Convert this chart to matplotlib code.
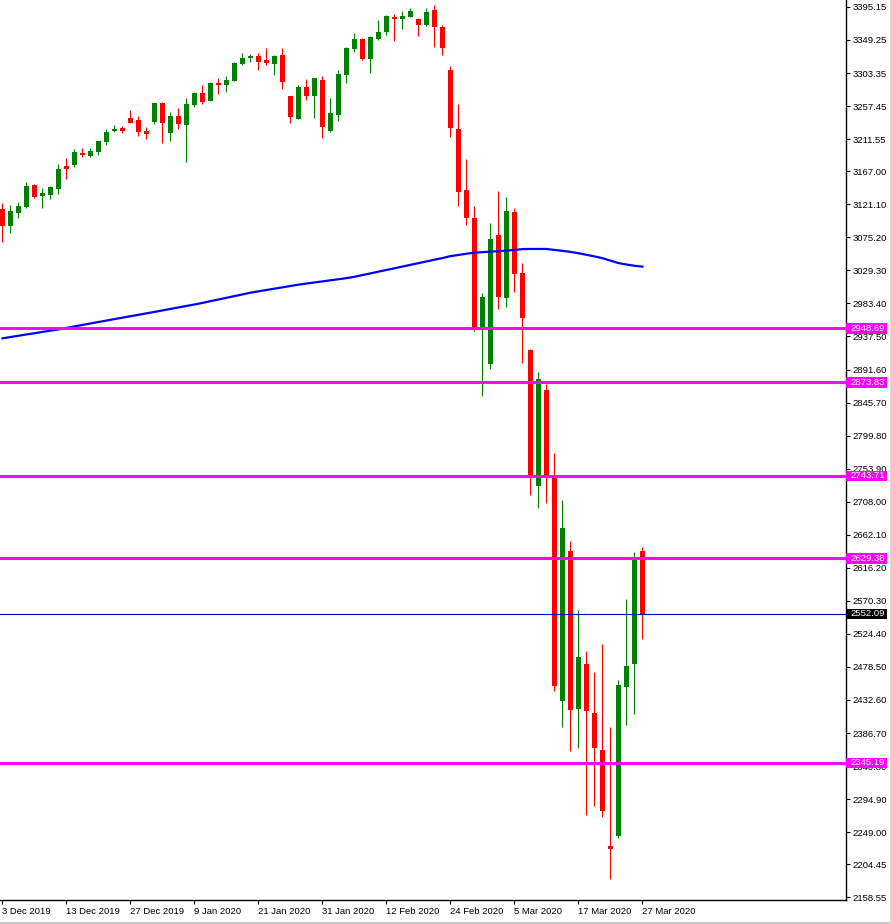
import matplotlib.pyplot as plt
import matplotlib.transforms as mtransforms
from matplotlib.patches import Rectangle
from matplotlib.lines import Line2D
import numpy as np

# daily candles, 3 Dec 2019 .. 27 Mar 2020
opens = [3114.5, 3091.4, 3109.4, 3117.7, 3147.8, 3133.0, 3134.4, 3142.7, 3174.2, 3176.1,
         3192.3, 3188.6, 3193.7, 3207.6, 3222.9, 3227.0, 3240.9, 3238.1, 3222.9, 3235.3,
         3261.7, 3220.1, 3243.7, 3231.2, 3259.0, 3275.6, 3264.5, 3289.5, 3286.7, 3292.3,
         3315.9, 3324.2, 3327.0, 3321.5, 3315.9, 3328.4, 3271.5, 3239.5, 3284.0, 3271.5,
         3293.7, 3222.9, 3245.1, 3300.6, 3336.7, 3350.6, 3322.9, 3350.6, 3360.4, 3381.2,
         3378.4, 3381.2, 3378.4, 3370.1, 3390.9, 3367.3, 3307.5, 3225.6, 3140.9, 3102.0,
         2951.0, 2899.7, 3078.4, 2991.3, 3110.3, 3025.6, 2918.6, 2730.3, 2863.1, 2740.9,
         2431.6, 2639.5, 2420.5, 2482.6, 2414.5, 2363.1, 2230.3, 2244.1, 2451.1, 2483.0,
         2639.5]
highs = [3122.8, 3120.1, 3124.2, 3152.0, 3149.2, 3143.7, 3146.0, 3177.0, 3185.4, 3197.8,
         3199.2, 3199.2, 3209.5, 3225.6, 3231.2, 3229.8, 3252.0, 3243.7, 3228.4, 3262.0,
         3263.1, 3249.2, 3254.8, 3268.7, 3277.0, 3286.7, 3290.9, 3296.5, 3299.2, 3318.7,
         3331.2, 3329.8, 3331.2, 3338.1, 3328.4, 3338.1, 3272.0, 3286.7, 3295.1, 3297.0,
         3299.2, 3268.7, 3307.6, 3339.5, 3359.0, 3352.0, 3354.8, 3377.0, 3383.5, 3385.4,
         3389.5, 3393.7, 3379.8, 3393.7, 3397.9, 3370.1, 3313.1, 3260.3, 3183.9, 3118.6,
         2997.8, 3095.0, 3139.5, 3131.1, 3115.9, 3039.5, 2919.5, 2888.1, 2871.5, 2775.6,
         2710.3, 2653.4, 2557.6, 2500.6, 2471.5, 2510.3, 2395.5, 2460.3, 2572.9, 2638.1,
         2645.1]
lows = [3069.1, 3081.6, 3102.5, 3115.9, 3130.3, 3116.4, 3128.9, 3135.8, 3156.6, 3173.3,
        3187.2, 3187.2, 3190.0, 3203.4, 3221.5, 3220.1, 3233.5, 3215.9, 3211.7, 3232.6,
        3206.2, 3209.0, 3225.6, 3179.8, 3256.2, 3260.3, 3264.0, 3274.2, 3277.0, 3292.0,
        3314.5, 3318.7, 3307.6, 3314.5, 3300.6, 3281.2, 3234.0, 3239.0, 3265.9, 3240.9,
        3213.1, 3222.0, 3236.7, 3289.5, 3332.6, 3321.5, 3303.4, 3349.2, 3356.2, 3347.9,
        3364.5, 3380.8, 3354.8, 3368.7, 3339.5, 3328.4, 3214.9, 3119.1, 3092.7, 2945.5,
        2855.2, 2892.7, 2976.0, 2978.8, 2999.7, 2901.0, 2717.3, 2699.7, 2706.6, 2445.5,
        2395.5, 2362.2, 2366.4, 2273.3, 2285.8, 2270.5, 2184.4, 2241.4, 2398.3, 2413.6,
        2517.8]
closes = [3091.4, 3111.7, 3118.7, 3146.5, 3131.6, 3136.7, 3145.1, 3170.1, 3170.5, 3193.7,
          3189.5, 3195.1, 3209.0, 3221.5, 3225.6, 3223.3, 3234.0, 3221.5, 3218.7, 3261.7,
          3234.0, 3243.7, 3232.6, 3260.3, 3275.6, 3263.1, 3289.5, 3286.7, 3293.7, 3317.3,
          3324.2, 3327.0, 3318.7, 3317.3, 3327.0, 3290.9, 3242.3, 3284.0, 3271.5, 3296.5,
          3228.4, 3247.9, 3302.0, 3338.1, 3350.6, 3322.9, 3353.4, 3360.4, 3382.6, 3378.4,
          3382.6, 3389.5, 3370.1, 3388.1, 3367.3, 3338.1, 3227.5, 3138.1, 3102.4, 2951.0,
          2992.2, 3072.8, 2992.7, 3111.7, 3024.7, 2963.5, 2740.4, 2878.4, 2745.1, 2452.5,
          2671.5, 2419.1, 2492.3, 2417.7, 2366.4, 2278.9, 2226.1, 2453.4, 2479.8, 2627.0,
          2552.1]
# moving average
ma = [2934.9, 2936.7, 2938.5, 2940.3, 2942.0, 2943.8, 2945.6, 2947.3, 2949.4, 2951.4,
      2953.5, 2955.5, 2957.6, 2959.6, 2961.6, 2963.6, 2965.6, 2967.6, 2969.6, 2971.6,
      2973.7, 2975.8, 2977.8, 2979.9, 2981.9, 2984.1, 2986.5, 2988.8, 2991.2, 2993.5,
      2995.9, 2998.3, 3000.2, 3002.0, 3003.9, 3005.7, 3007.6, 3009.4, 3011.0, 3012.5,
      3014.0, 3015.5, 3017.0, 3018.5, 3020.4, 3022.8, 3025.1, 3027.5, 3029.9, 3032.2,
      3034.6, 3037.0, 3039.3, 3041.7, 3044.1, 3046.4, 3049.1, 3050.7, 3052.4, 3053.9,
      3054.6, 3055.3, 3056.0, 3056.7, 3057.7, 3058.8, 3059.0, 3059.0, 3059.0, 3057.7,
      3056.4, 3055.0, 3053.1, 3050.9, 3048.7, 3046.2, 3042.8, 3039.4, 3037.4, 3035.7,
      3034.5]

levels = [2948.69, 2873.83, 2743.71, 2629.38, 2345.19]
last_price = 2552.09

date_labels = ['3 Dec 2019', '13 Dec 2019', '27 Dec 2019', '9 Jan 2020', '21 Jan 2020',
               '31 Jan 2020', '12 Feb 2020', '24 Feb 2020', '5 Mar 2020', '17 Mar 2020',
               '27 Mar 2020']
price_ticks = [3395.15, 3349.25, 3303.35, 3257.45, 3211.55, 3167.00, 3121.10, 3075.20,
               3029.30, 2983.40, 2937.50, 2891.60, 2845.70, 2799.80, 2753.90, 2708.00,
               2662.10, 2616.20, 2570.30, 2524.40, 2478.50, 2432.60, 2386.70, 2340.80,
               2294.90, 2249.00, 2204.45, 2158.55]

plt.rcParams['font.family'] = ['Liberation Sans', 'DejaVu Sans']
fs = 6.8

W, H = 892, 924
fig = plt.figure(figsize=(W / 100, H / 100), dpi=100)
ax = fig.add_axes([0, 24 / H, 846 / W, 900 / H])

x = np.arange(len(opens))
o = np.array(opens)
c = np.array(closes)
colors = np.where(c >= o, '#008000', '#ff0000')

# candles
ax.vlines(x, lows, highs, colors=colors, lw=0.8, zorder=2)
body = np.maximum(np.abs(c - o), 1.0)
ax.bar(x, body, bottom=np.minimum(o, c), width=0.625, color=colors, linewidth=0, zorder=3)

# moving average
ax.plot(x, ma, color='#0000ff', lw=1.6, zorder=4)

# levels
for lvl in levels:
    ax.axhline(lvl, color='#ff00ff', lw=2.1, zorder=4)
ax.axhline(last_price, color='#0000c0', lw=0.8, zorder=4)

ax.set_xlim(-0.3125, 105.44)
ax.set_ylim(2154.8, 3404.8)

# axes look
for s in ['top', 'left']:
    ax.spines[s].set_visible(False)
ax.spines['right'].set_linewidth(1)
ax.spines['bottom'].set_linewidth(1)

ax.yaxis.tick_right()
ax.set_yticks(price_ticks)
ax.set_yticklabels(['%.2f' % v for v in price_ticks])
ax.tick_params(axis='y', direction='out', length=3, pad=2, labelsize=fs, width=0.8)

ax.set_xticks(np.arange(0, len(opens), 8))
ax.set_xticklabels(date_labels)
ax.tick_params(axis='x', direction='out', length=3, pad=2, labelsize=fs, width=0.8)
for lab in ax.get_xticklabels():
    lab.set_horizontalalignment('left')

# price tags on the right scale
trans = mtransforms.blended_transform_factory(ax.transAxes, ax.transData)
box_w = 41 / 846
box_h = 14.8
for lvl, fc in [(l, '#ff00ff') for l in levels] + [(last_price, '#000000')]:
    ax.add_patch(Rectangle((1.0, lvl - box_h / 2), box_w, box_h, transform=trans,
                           clip_on=False, fc=fc, ec='none', zorder=10))
    ax.text(1.0 + 4.5 / 846, lvl, '%.2f' % lvl, transform=trans, color='white',
            fontsize=fs, va='center', ha='left', clip_on=False, zorder=11)

# window borders
fig.add_artist(Line2D([0, 1], [1.5 / H, 1.5 / H], color='#c8c8c8', lw=1.5))
fig.add_artist(Line2D([1 - 1.5 / W, 1 - 1.5 / W], [0, 1], color='#d8d8d8', lw=1.5))

fig.savefig('out.png', dpi=100)
